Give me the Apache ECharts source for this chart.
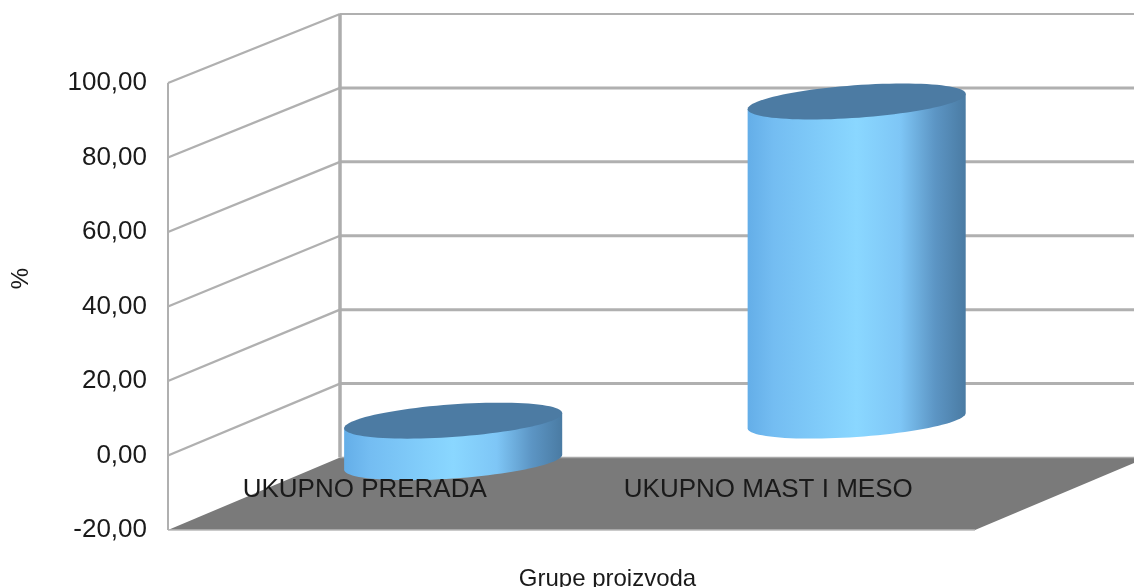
<!DOCTYPE html>
<html>
<head>
<meta charset="utf-8">
<style>html,body{margin:0;padding:0;background:#fff}#c{width:1134px;height:587px}</style>
<script src="https://cdn.jsdelivr.net/npm/echarts@6/dist/echarts.min.js"></script>
</head>
<body>
<div id="c"></div>
<script>
var categories = ['UKUPNO PRERADA', 'UKUPNO MAST I MESO'];
var values = [-11.2, 86];
var ticks = [-20, 0, 20, 40, 60, 80, 100];
var xAxisName = 'Grupe proizvoda';
var yAxisName = '%';

var DEPTH_X = 172, DEPTH_Y = -69, DEPTH_SCALE = -0.0078;
var CYL_DEPTH = 0.485, CYL_A = 0.245, CYL_BX = 46, CYL_BY = -18;
var FONT = '"Liberation Sans", Arial, sans-serif';

function backY(y, top, depth) {
  return y + depth * (DEPTH_Y + (y - top) * DEPTH_SCALE);
}

function floorItem(params, api) {
  var a = api.coord([0, -20]);
  var s = params.coordSys;
  var right = s.x + s.width, y = a[1], yb = backY(y, s.y, 1);
  return {
    type: 'group',
    children: [{
      type: 'polygon',
      shape: { points: [[s.x, y], [s.x + DEPTH_X, yb], [right + DEPTH_X, yb], [right, y]] },
      style: { fill: '#7a7a7a' }
    }, {
      type: 'polyline',
      shape: { points: [[s.x, y], [right, y]] },
      style: { fill: null, stroke: '#b8b8b8', lineWidth: 1.5 }
    }, {
      type: 'polyline',
      shape: { points: [[s.x + DEPTH_X, yb], [right + DEPTH_X, yb]] },
      style: { fill: null, stroke: '#a8a8a8', lineWidth: 1.5 }
    }]
  };
}

function wallItem(params, api) {
  var s = params.coordSys;
  var v = api.value(0);
  var y = api.coord([0, v])[1];
  var x0 = s.x, x1 = s.x + DEPTH_X, x2 = s.x + s.width + DEPTH_X, y1 = backY(y, s.y, 1);
  var stroke = '#b0b0b0';
  var kids = [];
  if (v > ticks[0]) {
    kids.push({ type: 'line', shape: { x1: x0, y1: y, x2: x1, y2: y1 }, style: { stroke: stroke, lineWidth: 2.4 } });
    kids.push({ type: 'line', shape: { x1: x1, y1: y1, x2: x2, y2: y1 }, style: { stroke: stroke, lineWidth: v === ticks[ticks.length - 1] ? 2 : 3 } });
  }
  if (v === ticks[ticks.length - 1]) {
    var yb = api.coord([0, ticks[0]])[1];
    kids.push({ type: 'line', shape: { x1: x0, y1: y, x2: x0, y2: yb }, style: { stroke: stroke, lineWidth: 2 } });
    kids.push({ type: 'line', shape: { x1: x1, y1: y1, x2: x1, y2: backY(yb, s.y, 1) }, style: { stroke: '#adadad', lineWidth: 3.5 } });
  }
  return { type: 'group', children: kids };
}

function ellipsePoint(c, ax, t) {
  return [c[0] + Math.cos(t) * ax + Math.sin(t) * CYL_BX, c[1] + Math.sin(t) * CYL_BY];
}

function cylinderItem(params, api) {
  var idx = api.value(0), val = api.value(1);
  var s = params.coordSys;
  var p0 = api.coord([idx, 0]), p1 = api.coord([idx, val]);
  var band = api.size([1, 0])[0];
  var ax = band * CYL_A;
  var dx = DEPTH_X * CYL_DEPTH;
  var zero = [p0[0] + dx, backY(p0[1], s.y, CYL_DEPTH)], end = [p1[0] + dx, backY(p1[1], s.y, CYL_DEPTH)];
  var upper = val >= 0 ? end : zero, lower = val >= 0 ? zero : end;
  var t0 = Math.atan2(CYL_BX, ax);
  var N = 48, i, body = [], cap = [];
  for (i = 0; i <= N; i++) {
    body.push(ellipsePoint(lower, ax, t0 - Math.PI + Math.PI * i / N));
  }
  body.push(ellipsePoint(upper, ax, t0));
  body.push(ellipsePoint(upper, ax, t0 + Math.PI));
  for (i = 0; i < 2 * N; i++) {
    cap.push(ellipsePoint(upper, ax, Math.PI * i / N));
  }
  return {
    type: 'group',
    children: [{
      type: 'polygon',
      shape: { points: body },
      style: {
        fill: {
          type: 'linear', x: 0, y: 0, x2: 1, y2: 0,
          colorStops: [
            { offset: 0, color: '#64aee8' },
            { offset: 0.12, color: '#74bdf2' },
            { offset: 0.5, color: '#8ad7ff' },
            { offset: 0.7, color: '#7ec6f6' },
            { offset: 0.86, color: '#5c95c4' },
            { offset: 1, color: '#4a7ba3' }
          ]
        }
      }
    }, {
      type: 'polygon',
      shape: { points: cap },
      style: { fill: '#4c7ba3' }
    }]
  };
}

var chart = echarts.init(document.getElementById('c'), null, { renderer: 'canvas' });
chart.setOption({
  animation: false,
  backgroundColor: '#ffffff',
  textStyle: { fontFamily: FONT },
  grid: { left: 168, top: 83, width: 807, height: 447, containLabel: false, outerBoundsMode: 'none' },
  xAxis: {
    type: 'category',
    data: categories,
    z: 20,
    name: xAxisName,
    nameLocation: 'middle',
    nameGap: 37,
    nameTextStyle: { fontFamily: FONT, fontSize: 24, color: '#1a1a1a', padding: [0, 0, 0, 72] },
    axisLine: { show: false },
    axisTick: { show: false },
    axisLabel: { margin: -53, fontFamily: FONT, fontSize: 26, color: '#1a1a1a', padding: [0, 10, 0, 0], interval: 0 }
  },
  yAxis: {
    type: 'value',
    min: -20,
    max: 100,
    interval: 20,
    name: yAxisName,
    nameLocation: 'middle',
    nameRotate: 90,
    nameGap: 135,
    nameTextStyle: { fontFamily: FONT, fontSize: 24, color: '#1a1a1a', padding: [0, 0, 0, 56] },
    axisLine: { show: false },
    axisTick: { show: false },
    splitLine: { show: false },
    axisLabel: {
      margin: 21, fontFamily: FONT, fontSize: 26, color: '#1a1a1a',
      formatter: function (v) { return v.toFixed(2).replace('.', ','); }
    }
  },
  series: [
    { type: 'custom', name: 'floor', z: 1, silent: true, clip: false, data: [[0]], renderItem: floorItem, encode: { x: 0 } },
    { type: 'custom', name: 'walls', z: 2, silent: true, clip: false, data: ticks.map(function (t) { return [t]; }), renderItem: wallItem, encode: { y: 0 } },
    {
      type: 'custom', name: 'values', z: 3, clip: false,
      data: values.map(function (v, i) { return [i, v]; }),
      renderItem: cylinderItem, encode: { x: 0, y: 1 }
    }
  ]
});
</script>
</body>
</html>
